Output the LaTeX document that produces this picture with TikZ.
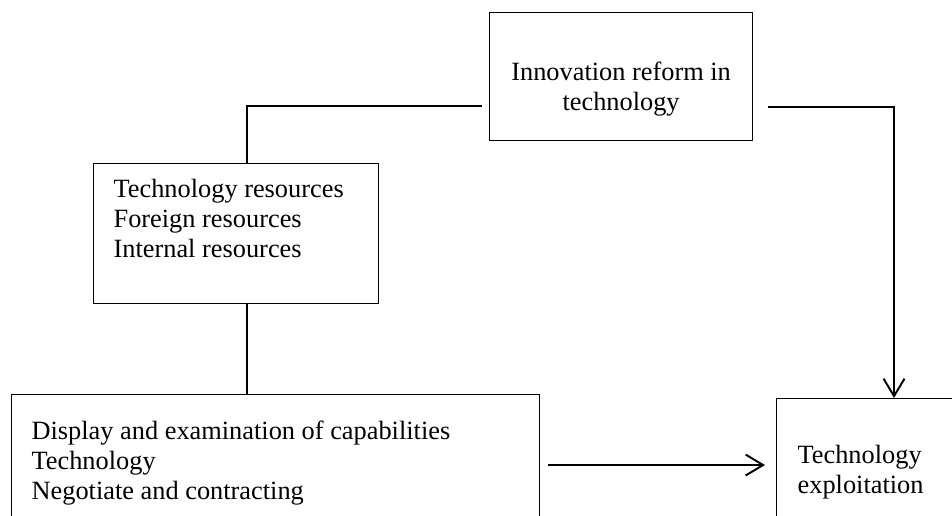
\documentclass[tikz,border=0pt]{standalone}
\usepackage{fontspec}
\setmainfont{Liberation Serif}
\usetikzlibrary{arrows.meta}

\begin{document}
\begin{tikzpicture}[x=0.02cm, y=-0.02cm,
    box/.style={draw, line width=0.7pt, inner sep=0pt, anchor=north west, font=\fontsize{15pt}{17pt}\selectfont},
    link/.style={line width=1.1pt},
    arrow/.style={line width=1.1pt, -{Straight Barb[length=0.35cm, width=0.42cm, line width=1.1pt]}}]

    \useasboundingbox (0,0) rectangle (952,515);
    \clip (0,0) rectangle (952,515);

    \node[box] at (489, 12) (inn) {\parbox[t][2.56cm][t]{5.26cm}{\centering\rule{0pt}{1.36cm}Innovation reform in\\technology}};
    \node[box, inner xsep=0.4cm] at (93, 163) (res) {\parbox[t][2.8cm][t]{4.9cm}{\rule{0pt}{0.68cm}Technology resources\\Foreign resources\\Internal resources}};
    \node[box, inner xsep=0.4cm] at (11, 394) (disp) {\parbox[t][2.8cm][t]{9.76cm}{\rule{0pt}{0.9cm}Display and examination of capabilities\\Technology\\Negotiate and contracting}};
    \node[box, inner xsep=0.42cm] at (776, 398) (expl) {\parbox[t][2.8cm][t]{3.2cm}{\rule{0pt}{1.3cm}Technology\\exploitation}};

    \coordinate (bendL) at (247, 106);
    \coordinate (bendR) at (894, 107);
    \coordinate (mid) at (650, 465);

    \draw[link, shorten <=0.14cm] (inn.west |- bendL) -- (bendL) -- (bendL |- res.north);
    \draw[link] (bendL |- res.south) -- (bendL |- disp.north);
    \draw[arrow, shorten <=0.3cm] (inn.east |- bendR) -- (bendR) -- (bendR |- expl.north);
    \draw[arrow, line width=1.5pt, shorten <=0.16cm, shorten >=0.22cm] (disp.east |- mid) -- (expl.west |- mid);

\end{tikzpicture}
\end{document}
